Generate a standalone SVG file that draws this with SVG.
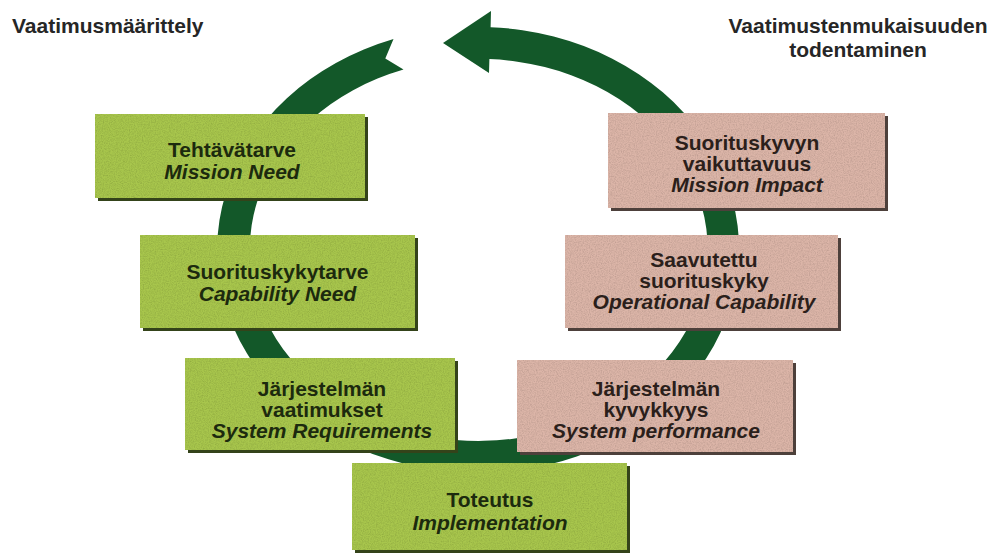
<svg xmlns="http://www.w3.org/2000/svg" width="992" height="554" viewBox="0 0 992 554">
  <style>
    .title { font-family: "Liberation Sans", Arial, sans-serif; font-weight: bold; font-size: 21px; fill: #262626; }
    .lbl { font-family: "Liberation Sans", Arial, sans-serif; font-weight: bold; font-size: 21px; text-anchor: middle; }
    .en { font-style: italic; }
    .g .box { fill: #a8c64d; }
    .g .shadow { fill: #34431a; }
    .g text { fill: #1c2a0e; }
    .p .box { fill: #dcb5a8; }
    .p .shadow { fill: #4d403b; }
    .p text { fill: #2b1f1b; }
    .ring { fill: #135829; }
  </style>
  <defs>
    <filter id="grain" x="0" y="0" width="1" height="1">
      <feTurbulence type="fractalNoise" baseFrequency="0.85" numOctaves="2" seed="4" result="noise"/>
      <feColorMatrix in="noise" type="matrix" values="0 0 0 0 0  0 0 0 0 0  0 0 0 0 0  0 0 0 0.5 -0.18" result="speck"/>
      <feComposite in="speck" in2="SourceGraphic" operator="in" result="tex"/>
      <feMerge><feMergeNode in="SourceGraphic"/><feMergeNode in="tex"/></feMerge>
    </filter>
  </defs>

  <rect width="992" height="554" fill="#ffffff"/>

  <!-- phase headings -->
  <text class="title" x="12" y="33">Vaatimusmäärittely</text>
  <text class="title" x="858" y="33" text-anchor="middle">Vaatimustenmukaisuuden</text>
  <text class="title" x="858" y="57" text-anchor="middle">todentaminen</text>

  <!-- cycle arrow: notched tail upper left, runs round anticlockwise, head points left at the top -->
  <g id="connectors">
    <path class="ring" d="M393.5,39 A261,223 0 1 0 490.6,27.2 L491,11 L443,43 L489,73 L489.4,59.1 A229,191 0 1 1 403.5,69.5 L385.3,58.5 Z"/>
  </g>

  <!-- requirement definition side -->
  <g id="mission-need" class="g">
    <rect class="shadow" x="98" y="117" width="270" height="84"/>
    <rect class="box" x="95" y="114" width="270" height="84" filter="url(#grain)"/>
    <text class="lbl" x="232" y="157">Tehtävätarve</text>
    <text class="lbl en" x="232" y="179">Mission Need</text>
  </g>

  <g id="capability-need" class="g">
    <rect class="shadow" x="143" y="238" width="275" height="93"/>
    <rect class="box" x="140" y="235" width="275" height="93" filter="url(#grain)"/>
    <text class="lbl" x="277.5" y="279">Suorituskykytarve</text>
    <text class="lbl en" x="277.5" y="301">Capability Need</text>
  </g>

  <g id="system-requirements" class="g">
    <rect class="shadow" x="188" y="361" width="270" height="92"/>
    <rect class="box" x="185" y="358" width="270" height="92" filter="url(#grain)"/>
    <text class="lbl" x="322" y="396">Järjestelmän</text>
    <text class="lbl" x="322" y="417">vaatimukset</text>
    <text class="lbl en" x="322" y="438">System Requirements</text>
  </g>

  <g id="implementation" class="g">
    <rect class="shadow" x="355" y="466" width="275" height="87"/>
    <rect class="box" x="352" y="463" width="275" height="87" filter="url(#grain)"/>
    <text class="lbl" x="490" y="507">Toteutus</text>
    <text class="lbl en" x="490" y="530">Implementation</text>
  </g>

  <!-- verification side -->
  <g id="mission-impact" class="p">
    <rect class="shadow" x="611" y="116" width="277" height="95"/>
    <rect class="box" x="608" y="113" width="277" height="95" filter="url(#grain)"/>
    <text class="lbl" x="747" y="150">Suorituskyvyn</text>
    <text class="lbl" x="747" y="171">vaikuttavuus</text>
    <text class="lbl en" x="747" y="192">Mission Impact</text>
  </g>

  <g id="operational-capability" class="p">
    <rect class="shadow" x="568" y="238" width="273" height="93"/>
    <rect class="box" x="565" y="235" width="273" height="93" filter="url(#grain)"/>
    <text class="lbl" x="704" y="267">Saavutettu</text>
    <text class="lbl" x="704" y="288">suorituskyky</text>
    <text class="lbl en" x="704" y="309">Operational Capability</text>
  </g>

  <g id="system-performance" class="p">
    <rect class="shadow" x="520" y="363" width="276" height="92"/>
    <rect class="box" x="517" y="360" width="276" height="92" filter="url(#grain)"/>
    <text class="lbl" x="656" y="396">Järjestelmän</text>
    <text class="lbl" x="656" y="417">kyvykkyys</text>
    <text class="lbl en" x="656" y="438">System performance</text>
  </g>
</svg>
